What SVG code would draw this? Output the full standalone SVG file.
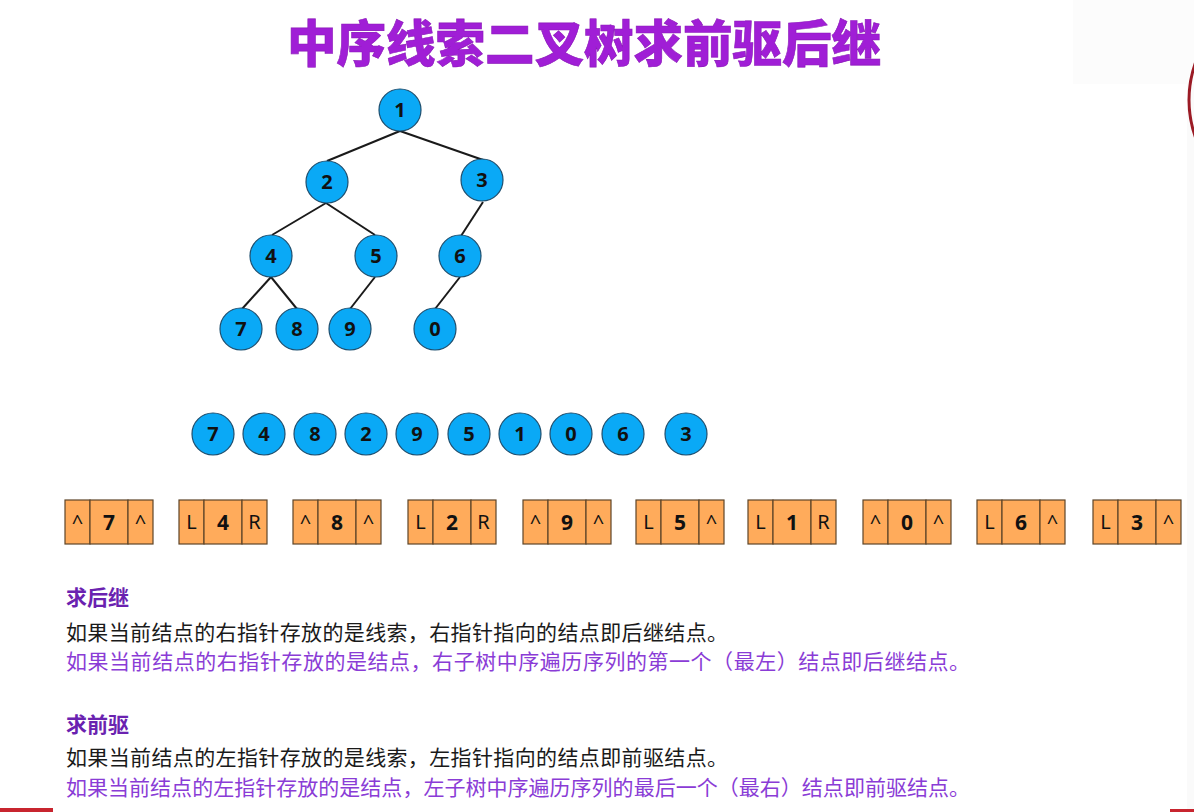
<svg xmlns="http://www.w3.org/2000/svg" width="1194" height="812" viewBox="0 0 1194 812">
<style>
.nd circle{fill:#0AA9F6;stroke:#1D4E6E;stroke-width:1.2}
.nd text{font-family:"Noto Sans","Open Sans",sans-serif;font-weight:bold;font-size:20px;fill:#111;text-anchor:middle}
.edge{stroke:#1a1a1a;stroke-width:2;fill:none}
.bx rect{fill:#FFAB5B;stroke:#5E4529;stroke-width:1.2}
.bx text{font-family:"Noto Sans","Open Sans",sans-serif;font-size:20px;fill:#111;text-anchor:middle}
.bx text.v{font-weight:bold;font-size:21px}
.cn{font-family:"Noto Sans CJK SC","Noto Sans",sans-serif;font-size:21px}
.hd{font-weight:bold;fill:#6A22B0}
.bk{fill:#1a1a1a}
.pu{fill:#8A3CD6}
</style>
<rect width="1194" height="812" fill="#ffffff"/>
<rect x="1073" y="0" width="121" height="84" fill="#FCFCFC"/>
<rect x="1187" y="84" width="7" height="728" fill="#FAFAFA"/>
<circle cx="1300" cy="100" r="111" fill="none" stroke="#9B1B25" stroke-width="3"/>
<rect x="0" y="808" width="53" height="4" fill="#C8252F"/>
<rect x="1170" y="809" width="24" height="3" fill="#C8252F"/>

<text x="584" y="62" text-anchor="middle" font-family="Noto Sans CJK SC,sans-serif" font-weight="900" font-size="49.5" fill="#A01ED6" stroke="#8A18B8" stroke-width="0.6">中序线索二叉树求前驱后继</text>

<g id="edges">
<line class="edge" x1="400" y1="131" x2="327" y2="161"/>
<line class="edge" x1="400" y1="131" x2="486" y2="161"/>
<line class="edge" x1="326" y1="203" x2="272" y2="235"/>
<line class="edge" x1="326" y1="203" x2="375" y2="235"/>
<line class="edge" x1="483" y1="202" x2="461" y2="236"/>
<line class="edge" x1="271" y1="277" x2="242" y2="309"/>
<line class="edge" x1="271" y1="277" x2="297" y2="309"/>
<line class="edge" x1="375" y1="277" x2="350" y2="309"/>
<line class="edge" x1="460" y1="277" x2="435" y2="309"/>
</g>

<g id="n1" class="nd"><circle cx="400" cy="110" r="21"/><text x="400" y="117">1</text></g>
<g id="n2" class="nd"><circle cx="327" cy="182" r="21"/><text x="327" y="189">2</text></g>
<g id="n3" class="nd"><circle cx="482" cy="180" r="21"/><text x="482" y="187">3</text></g>
<g id="n4" class="nd"><circle cx="271" cy="256" r="21"/><text x="271" y="263">4</text></g>
<g id="n5" class="nd"><circle cx="376" cy="256" r="21"/><text x="376" y="263">5</text></g>
<g id="n6" class="nd"><circle cx="460" cy="256" r="21"/><text x="460" y="263">6</text></g>
<g id="n7" class="nd"><circle cx="241" cy="329" r="21"/><text x="241" y="336">7</text></g>
<g id="n8" class="nd"><circle cx="297" cy="329" r="21"/><text x="297" y="336">8</text></g>
<g id="n9" class="nd"><circle cx="350" cy="329" r="21"/><text x="350" y="336">9</text></g>
<g id="n0" class="nd"><circle cx="435" cy="329" r="21"/><text x="435" y="336">0</text></g>

<g id="seq">
<g id="s7" class="nd"><circle cx="213" cy="434" r="21"/><text x="213" y="441">7</text></g>
<g id="s4" class="nd"><circle cx="264" cy="434" r="21"/><text x="264" y="441">4</text></g>
<g id="s8" class="nd"><circle cx="315" cy="434" r="21"/><text x="315" y="441">8</text></g>
<g id="s2" class="nd"><circle cx="366" cy="434" r="21"/><text x="366" y="441">2</text></g>
<g id="s9" class="nd"><circle cx="417" cy="434" r="21"/><text x="417" y="441">9</text></g>
<g id="s5" class="nd"><circle cx="469" cy="434" r="21"/><text x="469" y="441">5</text></g>
<g id="s1" class="nd"><circle cx="520" cy="434" r="21"/><text x="520" y="441">1</text></g>
<g id="s0" class="nd"><circle cx="571" cy="434" r="21"/><text x="571" y="441">0</text></g>
<g id="s6" class="nd"><circle cx="623" cy="434" r="21"/><text x="623" y="441">6</text></g>
<g id="s3" class="nd"><circle cx="686" cy="434" r="21"/><text x="686" y="441">3</text></g>
</g>

<g id="b7" class="bx" transform="translate(65,500)"><rect x="0" y="0" width="25" height="44"/><rect x="25" y="0" width="38" height="44"/><rect x="63" y="0" width="25" height="44"/><text x="12.5" y="29">^</text><text class="v" x="44" y="29.5">7</text><text x="75.5" y="29">^</text></g>
<g id="b4" class="bx" transform="translate(179,500)"><rect x="0" y="0" width="25" height="44"/><rect x="25" y="0" width="38" height="44"/><rect x="63" y="0" width="25" height="44"/><text x="12.5" y="29">L</text><text class="v" x="44" y="29.5">4</text><text x="75.5" y="29">R</text></g>
<g id="b8" class="bx" transform="translate(293,500)"><rect x="0" y="0" width="25" height="44"/><rect x="25" y="0" width="38" height="44"/><rect x="63" y="0" width="25" height="44"/><text x="12.5" y="29">^</text><text class="v" x="44" y="29.5">8</text><text x="75.5" y="29">^</text></g>
<g id="b2" class="bx" transform="translate(408,500)"><rect x="0" y="0" width="25" height="44"/><rect x="25" y="0" width="38" height="44"/><rect x="63" y="0" width="25" height="44"/><text x="12.5" y="29">L</text><text class="v" x="44" y="29.5">2</text><text x="75.5" y="29">R</text></g>
<g id="b9" class="bx" transform="translate(523,500)"><rect x="0" y="0" width="25" height="44"/><rect x="25" y="0" width="38" height="44"/><rect x="63" y="0" width="25" height="44"/><text x="12.5" y="29">^</text><text class="v" x="44" y="29.5">9</text><text x="75.5" y="29">^</text></g>
<g id="b5" class="bx" transform="translate(636,500)"><rect x="0" y="0" width="25" height="44"/><rect x="25" y="0" width="38" height="44"/><rect x="63" y="0" width="25" height="44"/><text x="12.5" y="29">L</text><text class="v" x="44" y="29.5">5</text><text x="75.5" y="29">^</text></g>
<g id="b1" class="bx" transform="translate(748,500)"><rect x="0" y="0" width="25" height="44"/><rect x="25" y="0" width="38" height="44"/><rect x="63" y="0" width="25" height="44"/><text x="12.5" y="29">L</text><text class="v" x="44" y="29.5">1</text><text x="75.5" y="29">R</text></g>
<g id="b0" class="bx" transform="translate(863,500)"><rect x="0" y="0" width="25" height="44"/><rect x="25" y="0" width="38" height="44"/><rect x="63" y="0" width="25" height="44"/><text x="12.5" y="29">^</text><text class="v" x="44" y="29.5">0</text><text x="75.5" y="29">^</text></g>
<g id="b6" class="bx" transform="translate(977,500)"><rect x="0" y="0" width="25" height="44"/><rect x="25" y="0" width="38" height="44"/><rect x="63" y="0" width="25" height="44"/><text x="12.5" y="29">L</text><text class="v" x="44" y="29.5">6</text><text x="75.5" y="29">^</text></g>
<g id="b3" class="bx" transform="translate(1093,500)"><rect x="0" y="0" width="25" height="44"/><rect x="25" y="0" width="38" height="44"/><rect x="63" y="0" width="25" height="44"/><text x="12.5" y="29">L</text><text class="v" x="44" y="29.5">3</text><text x="75.5" y="29">^</text></g>

<g id="notes">
<text class="cn hd" x="66" y="605">求后继</text>
<text class="cn bk" x="66" y="640" textLength="662" lengthAdjust="spacing">如果当前结点的右指针存放的是线索，右指针指向的结点即后继结点。</text>
<text class="cn pu" x="66" y="669" textLength="904" lengthAdjust="spacing">如果当前结点的右指针存放的是结点，右子树中序遍历序列的第一个（最左）结点即后继结点。</text>
<text class="cn hd" x="66" y="732">求前驱</text>
<text class="cn bk" x="66" y="765" textLength="662" lengthAdjust="spacing">如果当前结点的左指针存放的是线索，左指针指向的结点即前驱结点。</text>
<text class="cn pu" x="66" y="795" textLength="904" lengthAdjust="spacing">如果当前结点的左指针存放的是结点，左子树中序遍历序列的最后一个（最右）结点即前驱结点。</text>
</g>
</svg>
